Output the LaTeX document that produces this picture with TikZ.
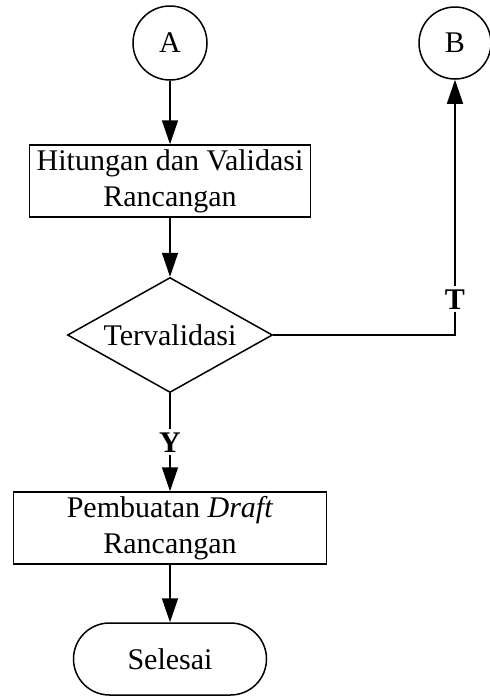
\documentclass[tikz,border=0pt]{standalone}
\usepackage{fontspec}
\setmainfont{Liberation Serif}
\usetikzlibrary{shapes.geometric,arrows.meta}
\begin{document}
\begin{tikzpicture}[x=1pt,y=-1pt,
  line width=1.5pt,
  every node/.style={font=\fontsize{30}{36}\selectfont},
  connector/.style={circle,draw,minimum size=74pt,inner sep=0pt},
  process/.style={rectangle,draw,minimum height=72pt,inner sep=0pt,align=center},
  decision/.style={diamond,draw,minimum width=205pt,minimum height=115pt,inner sep=0pt,aspect=1.78},
  terminal/.style={rectangle,draw,rounded corners=36pt,minimum width=193pt,minimum height=72pt,inner sep=0pt},
  flow/.style={-{Triangle[length=24pt,width=16pt]}},
  tag/.style={fill=white,inner sep=3pt,font=\fontsize{30}{36}\selectfont\bfseries}]
\useasboundingbox (0,0) rectangle (490,697);

\node[connector] (A) at (170,43) {A};
\node[connector,minimum size=72pt] (B) at (455,43) {B};
\node[process,minimum width=281pt] (hit) at (170,181) {Hitungan dan Validasi\\Rancangan};
\node[decision] (dec) at (170,335) {};
\node at (dec) {Tervalidasi};
\node[process,minimum width=313pt] (draft) at (170,528) {Pembuatan \textit{Draft}\\Rancangan};
\node[terminal] (end) at (170,659) {Selesai};

\draw[flow] (A) -- (hit);
\draw[flow] (hit) -- (dec.north);
\draw[flow] (dec.south) -- node[tag] {Y} (draft);
\draw[flow] (dec.east) -| node[tag,pos=0.57] {T} (B.south);
\draw[flow] (draft) -- (end);
\end{tikzpicture}
\end{document}
